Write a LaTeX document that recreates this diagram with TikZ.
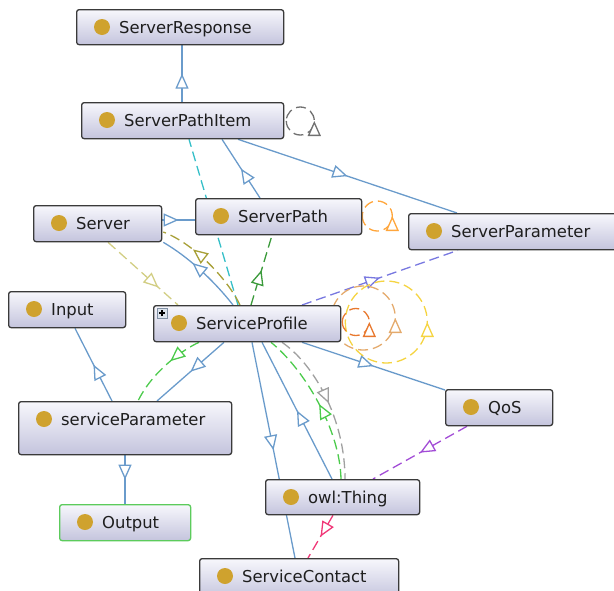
\documentclass[tikz,border=0pt]{standalone}
\usepackage{fontspec}
\setmainfont{DejaVu Sans}
\usetikzlibrary{arrows.meta,decorations.markings,calc}

\definecolor{boxline}{HTML}{3A3A3A}
\definecolor{boxtop}{HTML}{F7F7FC}
\definecolor{boxbot}{HTML}{C4C4DD}
\definecolor{dotgold}{HTML}{CFA22E}
\definecolor{txt}{HTML}{1E1E1E}
\definecolor{outgreen}{HTML}{5CCB5C}
\definecolor{edgeblue}{HTML}{6A9BCB}
\definecolor{ecyan}{HTML}{35BFC8}
\definecolor{eolive}{HTML}{A8A038}
\definecolor{ekhaki}{HTML}{D2CE84}
\definecolor{edkgreen}{HTML}{3A9A3A}
\definecolor{eperi}{HTML}{7878E0}
\definecolor{egreen}{HTML}{4CCB4C}
\definecolor{egray}{HTML}{A0A0A0}
\definecolor{epurple}{HTML}{A24CD6}
\definecolor{epink}{HTML}{F03878}
\definecolor{loopgray}{HTML}{707070}
\definecolor{looporange}{HTML}{FFA63C}
\definecolor{loopred}{HTML}{E8782E}
\definecolor{looptan}{HTML}{E4AA6C}
\definecolor{loopyellow}{HTML}{F5D442}
\definecolor{expfill}{HTML}{DCE3EC}
\definecolor{expline}{HTML}{8090A4}

\tikzset{
  cls/.style={draw=boxline, line width=1.3pt, rounded corners=2.5pt,
    top color=boxtop, bottom color=boxbot, anchor=north west, inner sep=0pt},
  lbl/.style={anchor=base west, inner sep=0pt, text=txt,
    font=\fontsize{16.4}{19}\selectfont},
  golddot/.style={circle, fill=dotgold, minimum size=16pt, inner sep=0pt},
  midarrow/.style={postaction={decorate}, decoration={markings,
    mark=at position #1 with {\arrow{Triangle[length=15pt, width=13pt, fill=white]}}}},
  midarrow/.default=0.5,
  edge/.style={line width=1.3pt},
  dashline/.style={edge, dash pattern=on 10pt off 5pt},
  isa/.style={edge, draw=edgeblue},
}

% class box: extra style, name, x, y, width, height, label
\newcommand\classbox[7][]{%
  \node[cls, minimum width=#5pt, minimum height=#6pt, #1] (#2) at (#3,#4) {};
  \node[golddot] (#2-dot) at ($(#2.north west)+(26,18)$) {};
  \node[lbl] (#2-lbl) at ($(#2.north west)+(43,24)$) {#7};
}

\begin{document}
\begin{tikzpicture}[x=1pt, y=-1pt]
\useasboundingbox (0,0) rectangle (614,590);

% box outlines first, invisible, so that the connectors can refer to them
\begin{scope}[opacity=0]
  \node[cls, minimum width=207pt, minimum height=35pt] (resp) at (76,9) {};
  \node[cls, minimum width=202pt, minimum height=36pt] (spi) at (81,102) {};
  \node[cls, minimum width=128pt, minimum height=36pt] (server) at (33,205) {};
  \node[cls, minimum width=166pt, minimum height=36pt] (spath) at (195,198) {};
  \node[cls, minimum width=215pt, minimum height=36pt] (sparam) at (408,213) {};
  \node[cls, minimum width=117pt, minimum height=36pt] (input) at (8,291) {};
  \node[cls, minimum width=187pt, minimum height=36pt] (sprof) at (153,305) {};
  \node[cls, minimum width=213pt, minimum height=53pt] (svcp) at (18,401) {};
  \node[cls, minimum width=131pt, minimum height=36pt] (output) at (59,504) {};
  \node[cls, minimum width=107pt, minimum height=36pt] (qos) at (445,389) {};
  \node[cls, minimum width=154pt, minimum height=35pt] (thing) at (265,479) {};
  \node[cls, minimum width=199pt, minimum height=40pt] (contact) at (199,558) {};
\end{scope}

% --- connectors ---
\draw[isa, midarrow] ($(spi.north west)+(101,0)$) -- ($(resp.south west)+(106,0)$);
\draw[isa, midarrow] ($(spath.north west)+(65,0)$) -- ($(spi.south west)+(141,0)$);
\draw[isa, midarrow] ($(spi.south west)+(157,0)$) -- ($(sparam.north west)+(49,0)$);
\draw[dashline, draw=ecyan, midarrow=0.56] ($(sprof.north west)+(85,0)$) -- ($(spi.south west)+(108,0)$);
\draw[isa, midarrow] ($(server.north east)+(0,15)$) -- ($(spath.north west)+(0,22)$);
\draw[dashline, draw=eolive, midarrow=0.68] ($(sprof.north west)+(87,0)$)
  .. controls (228,280) and (195,244) .. ($(server.north east)+(1,27)$);
\draw[isa, midarrow=0.62] ($(sprof.north west)+(80,0)$)
  .. controls (215,282) and (190,258) .. ($(server.south east)+(1,0)$);
\draw[dashline, draw=ekhaki, midarrow=0.72] ($(server.south west)+(75,0)$) -- ($(sprof.north west)+(25,0)$);
\draw[dashline, draw=edkgreen, midarrow] ($(sprof.north west)+(98,0)$) -- ($(spath.south west)+(77,0)$);
\draw[dashline, draw=eperi, midarrow] ($(sprof.north west)+(149,0)$) -- ($(sparam.south west)+(50,0)$);
\draw[isa, midarrow] ($(svcp.north west)+(94,0)$) -- ($(input.south west)+(67,0)$);
\draw[isa, midarrow] ($(svcp.south west)+(107,0)$) -- ($(output.north west)+(66,0)$);
\draw[isa, midarrow] ($(sprof.south west)+(71,0)$) -- ($(svcp.north west)+(139,0)$);
\draw[dashline, draw=egreen, midarrow=0.4] ($(sprof.south west)+(46,0)$)
  .. controls (182,350) and (152,372) .. ($(svcp.north west)+(120,0)$);
\draw[isa, midarrow] ($(sprof.south west)+(99,0)$) -- ($(contact.north west)+(96,0)$);
\draw[isa, midarrow] ($(thing.north west)+(67,0)$) -- ($(sprof.south west)+(109,0)$);
\draw[dashline, draw=egreen, midarrow] ($(thing.north west)+(76,0)$)
  .. controls (340,430) and (305,370) .. ($(sprof.south west)+(118,0)$);
\draw[dashline, draw=egray, midarrow] ($(sprof.south west)+(129,0)$)
  .. controls (315,365) and (345,420) .. ($(thing.north west)+(80,0)$);
\draw[isa, midarrow] ($(sprof.south west)+(149,0)$) -- ($(qos.north west)+(0,1)$);
\draw[dashline, draw=epurple, midarrow] ($(qos.south west)+(22,0)$) -- ($(thing.north west)+(108,0)$);
\draw[dashline, draw=epink, midarrow] ($(thing.south west)+(68,0)$) -- ($(contact.north west)+(109,0)$);

% --- self loops ---
\draw[dashline, draw=loopgray, midarrow] ($(spi.north east)+(2,19)$)
  arc[start angle=180, end angle=540, radius=14pt];
\draw[dashline, draw=looporange, midarrow] ($(spath.north east)+(0,18)$)
  arc[start angle=180, end angle=540, radius=15pt];
\draw[dashline, draw=loopyellow, midarrow] ($(sprof.north east)+(4,17)$)
  arc[start angle=180, end angle=540, radius=41pt];
\draw[dashline, draw=looptan, midarrow] ($(sprof.north east)+(-10,13)$)
  arc[start angle=180, end angle=540, radius=32pt];
\draw[dashline, draw=loopred, midarrow] ($(sprof.north east)+(1,17)$)
  arc[start angle=180, end angle=540, radius=13.5pt];

% --- class boxes ---
\classbox{resp}{76}{9}{207}{35}{ServerResponse}
\classbox{spi}{81}{102}{202}{36}{ServerPathItem}
\classbox{server}{33}{205}{128}{36}{Server}
\classbox{spath}{195}{198}{166}{36}{ServerPath}
\classbox{sparam}{408}{213}{215}{36}{ServerParameter}
\classbox{input}{8}{291}{117}{36}{Input}
\classbox{sprof}{153}{305}{187}{36}{ServiceProfile}
\classbox{svcp}{18}{401}{213}{53}{serviceParameter}
\classbox[draw=outgreen]{output}{59}{504}{131}{36}{Output}
\classbox{qos}{445}{389}{107}{36}{QoS}
\classbox{thing}{265}{479}{154}{35}{owl:Thing}
\classbox{contact}{199}{558}{199}{40}{ServiceContact}

% expand marker on ServiceProfile
\node[draw=expline, fill=expfill, minimum size=10pt, inner sep=0pt, line width=0.6pt]
  (sprof-exp) at ($(sprof.north west)+(9,8)$) {};
\draw[line width=1.1pt, black]
  ([xshift=-3pt]sprof-exp.center) -- ([xshift=3pt]sprof-exp.center)
  ([yshift=-3pt]sprof-exp.center) -- ([yshift=3pt]sprof-exp.center);
\end{tikzpicture}
\end{document}
